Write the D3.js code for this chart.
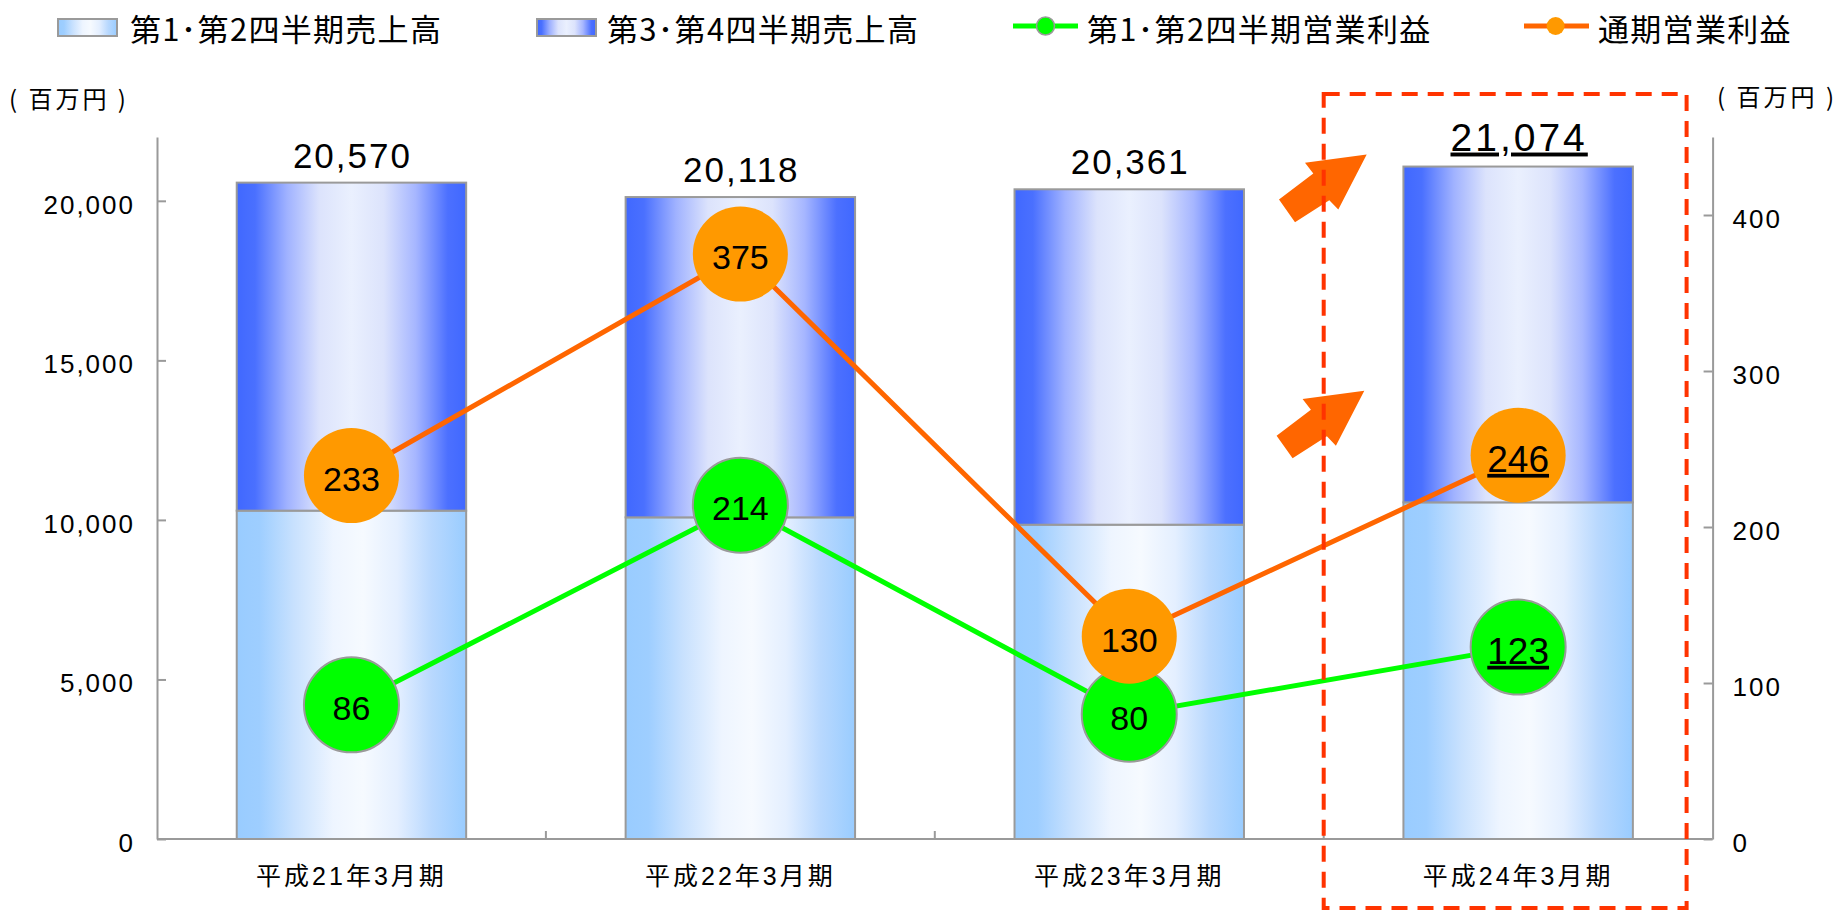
<!DOCTYPE html>
<html>
<head>
<meta charset="utf-8">
<script src="https://cdn.jsdelivr.net/npm/d3@7"></script>
<style>
  body { margin: 0; background: #fff; }
  text { font-family: "Liberation Sans", Arial, "Noto Sans CJK JP", sans-serif; fill: #000; }
  .jp { font-family: "Noto Sans CJK JP", sans-serif; }
</style>
</head>
<body>
<div id="chart"></div>
<script>
// data
const periods = ["平成21年3月期", "平成22年3月期", "平成23年3月期", "平成24年3月期"];
const salesH1 = [10290, 10080, 9850, 10550];      // 第1・第2四半期売上高
const salesTotal = [20570, 20118, 20361, 21074];  // 通期売上高 (bar top)
const profitH1 = [86, 214, 80, 123];              // 第1・第2四半期営業利益
const profitFull = [233, 375, 130, 246];          // 通期営業利益
const leftTicks = [0, 5000, 10000, 15000, 20000];
const rightTicks = [0, 100, 200, 300, 400];
const legendLabels = ["第1･第2四半期売上高", "第3･第4四半期売上高", "第1･第2四半期営業利益", "通期営業利益"];

const width = 1838, height = 913;
const plotLeft = 157, plotRight = 1712.6, plotTop = 137, plotBottom = 839;

const rows = periods.map((p, i) => ({
    period: p,
    h1: salesH1[i],
    total: salesTotal[i],
    pH1: profitH1[i],
    pFull: profitFull[i],
    last: i === periods.length - 1
}));

const svg = d3.select("#chart")
    .append("svg")
    .attr("width", width)
    .attr("height", height);

// gradients for the bars
const defs = svg.append("defs");
function gradient(id, stops) {
    const g = defs.append("linearGradient")
        .attr("id", id)
        .attr("x1", "0%").attr("x2", "100%")
        .attr("y1", "0%").attr("y2", "0%");
    stops.forEach(s => g.append("stop").attr("offset", s[0]).attr("stop-color", s[1]));
}
gradient("gradBottom", [["0%", "#99CCFF"], ["10%", "#9ECEFF"], ["25%", "#C8E1FE"], ["42%", "#EEF5FF"],
    ["55%", "#F6FAFF"], ["70%", "#E4EFFF"], ["85%", "#B8D8FE"], ["100%", "#99CCFF"]]);
gradient("gradTop", [["0%", "#4068FF"], ["8%", "#4A70FF"], ["22%", "#A0B2FF"], ["36%", "#DCE3FC"],
    ["50%", "#EAF0FE"], ["64%", "#DCE3FC"], ["78%", "#A6B6FF"], ["92%", "#4C70FF"], ["100%", "#4068FF"]]);

// scales
const x = d3.scaleBand()
    .domain(periods)
    .range([plotLeft, plotRight])
    .paddingInner(0.41)
    .paddingOuter(0.205);

const yL = d3.scaleLinear().domain([0, 22000]).range([plotBottom, plotTop]);
const yR = d3.scaleLinear().domain([0, 450]).range([plotBottom, plotTop]);

// bars
const bars = svg.append("g").attr("class", "bars");
bars.selectAll(".bottom")
    .data(rows)
    .join("rect")
    .attr("class", "bottom")
    .attr("x", d => x(d.period))
    .attr("width", x.bandwidth())
    .attr("y", d => yL(d.h1))
    .attr("height", d => yL(0) - yL(d.h1))
    .attr("fill", "url(#gradBottom)")
    .attr("stroke", "#9a9a9a")
    .attr("stroke-width", 2);

bars.selectAll(".top")
    .data(rows)
    .join("rect")
    .attr("class", "top")
    .attr("x", d => x(d.period))
    .attr("width", x.bandwidth())
    .attr("y", d => yL(d.total))
    .attr("height", d => yL(d.h1) - yL(d.total))
    .attr("fill", "url(#gradTop)")
    .attr("stroke", "#9a9a9a")
    .attr("stroke-width", 2);

// axes
const leftAxis = svg.append("g")
    .attr("transform", "translate(" + plotLeft + ",0)")
    .call(d3.axisLeft(yL).tickValues(leftTicks).tickFormat(d3.format(",")).tickSize(-9).tickSizeOuter(0).tickPadding(22));

const rightAxis = svg.append("g")
    .attr("transform", "translate(" + plotRight + ",0)")
    .call(d3.axisRight(yR).tickValues(rightTicks).tickSize(-9).tickSizeOuter(0).tickPadding(20));

[leftAxis, rightAxis].forEach(a => {
    a.select(".domain").attr("stroke", "#9a9a9a").attr("stroke-width", 2);
    a.selectAll(".tick line").attr("stroke", "#9a9a9a").attr("stroke-width", 2);
    a.selectAll(".tick text")
        .style("font-size", "26px")
        .style("letter-spacing", "2px")
        .attr("dy", "0.48em");
});

// x axis
const xAxis = svg.append("g")
    .attr("transform", "translate(0," + plotBottom + ")")
    .call(d3.axisBottom(x).tickSize(0).tickPadding(28));
xAxis.select(".domain").remove();
xAxis.selectAll(".tick text")
    .style("font-size", "25px")
    .style("letter-spacing", "3px");

svg.append("line")
    .attr("x1", plotLeft).attr("x2", plotRight)
    .attr("y1", plotBottom).attr("y2", plotBottom)
    .attr("stroke", "#9a9a9a").attr("stroke-width", 2);

svg.append("g")
    .selectAll("line")
    .data(periods.slice(1))
    .join("line")
    .attr("x1", d => x(d) - x.step() * x.paddingInner() / 2)
    .attr("x2", d => x(d) - x.step() * x.paddingInner() / 2)
    .attr("y1", plotBottom).attr("y2", plotBottom - 8)
    .attr("stroke", "#9a9a9a").attr("stroke-width", 2);

// unit labels
svg.append("text").attr("class", "jp")
    .attr("x", 9).attr("y", 97)
    .attr("dominant-baseline", "central")
    .style("font-size", "24px").style("letter-spacing", "3px")
    .text("( 百万円 )");
svg.append("text").attr("class", "jp")
    .attr("x", 1837).attr("y", 95)
    .attr("text-anchor", "end")
    .attr("dominant-baseline", "central")
    .style("font-size", "24px").style("letter-spacing", "3px")
    .text("( 百万円 )");

// total labels above bars
svg.append("g")
    .selectAll("text")
    .data(rows)
    .join("text")
    .attr("x", d => x(d.period) + x.bandwidth() / 2 + 1)
    .attr("y", d => yL(d.total) - (d.last ? 16 : 15))
    .attr("text-anchor", "middle")
    .style("font-size", d => d.last ? "39px" : "35px")
    .style("letter-spacing", d => d.last ? "3px" : "2px")
    .style("text-decoration", d => d.last ? "underline" : "none")
    .text(d => d3.format(",")(d.total));

// lines
const cx = d => x(d.period) + x.bandwidth() / 2;
const lineH1 = d3.line().x(cx).y(d => yR(d.pH1));
const lineFull = d3.line().x(cx).y(d => yR(d.pFull));

svg.append("path")
    .datum(rows)
    .attr("d", lineH1)
    .attr("fill", "none")
    .attr("stroke", "#00FF00")
    .attr("stroke-width", 5);

svg.append("path")
    .datum(rows)
    .attr("d", lineFull)
    .attr("fill", "none")
    .attr("stroke", "#FF6600")
    .attr("stroke-width", 5);

// markers with labels
function markers(key, fill, stroke) {
    const g = svg.append("g").selectAll("g")
        .data(rows)
        .join("g")
        .attr("transform", d => "translate(" + cx(d) + "," + yR(d[key]) + ")");
    g.append("circle")
        .attr("r", 47.5)
        .attr("fill", fill)
        .attr("stroke", stroke)
        .attr("stroke-width", stroke === "none" ? 0 : 2);
    g.append("text")
        .attr("text-anchor", "middle")
        .attr("dy", "0.45em")
        .style("font-size", d => d.last ? "37px" : "34px")
        .style("text-decoration", d => d.last ? "underline" : "none")
        .text(d => d[key]);
}
markers("pH1", "#00FF00", "#9a9a9a");
markers("pFull", "#FF9900", "none");

// arrows pointing up-right towards the latest period
const arrowShape = [[0, 0], [-28.4, 55], [-37.4, 45.6], [-71.7, 67.6], [-87.7, 45], [-53.4, 19], [-61.7, 8.3]];
const boundary = x(periods[3]) - x.step() * x.paddingInner() / 2;
const arrowTips = [[boundary + 43, yL(21450)], [boundary + 40.6, yL(14050)]];
svg.append("g")
    .selectAll("path")
    .data(arrowTips)
    .join("path")
    .attr("transform", d => "translate(" + d[0] + "," + d[1] + ")")
    .attr("d", d3.line()(arrowShape) + "Z")
    .attr("fill", "#FF6600");

// dashed highlight box around the latest period
svg.append("rect")
    .attr("x", boundary)
    .attr("y", 94)
    .attr("width", plotRight - 26 - boundary)
    .attr("height", 814)
    .attr("fill", "none")
    .attr("stroke", "#FF3300")
    .attr("stroke-width", 4)
    .attr("stroke-dasharray", "16,10");

// legend
const legend = svg.append("g").attr("class", "legend");
const swatchX = [58, 537];
["url(#gradBottom)", "url(#gradTop)"].forEach((f, i) => {
    legend.append("rect")
        .attr("x", swatchX[i]).attr("y", 19)
        .attr("width", 59).attr("height", 17)
        .attr("fill", f)
        .attr("stroke", "#9a9a9a").attr("stroke-width", 2);
});
const lineKeys = [
    { x1: 1013, x2: 1078, c: 1045.5, line: "#00FF00", fill: "#00FF00", stroke: "#9a9a9a" },
    { x1: 1524, x2: 1589, c: 1555.6, line: "#FF6600", fill: "#FF9900", stroke: "none" }
];
lineKeys.forEach(k => {
    legend.append("line")
        .attr("x1", k.x1).attr("x2", k.x2)
        .attr("y1", 26).attr("y2", 26)
        .attr("stroke", k.line).attr("stroke-width", 5);
    legend.append("circle")
        .attr("cx", k.c).attr("cy", 26).attr("r", 9)
        .attr("fill", k.fill)
        .attr("stroke", k.stroke).attr("stroke-width", 1.5);
});
const legendX = [130, 607, 1087, 1598];
legend.selectAll(".label")
    .data(legendLabels)
    .join("text")
    .attr("class", "label jp")
    .attr("x", (d, i) => legendX[i])
    .attr("y", 27)
    .attr("dominant-baseline", "central")
    .style("font-size", "31px")
    .style("letter-spacing", "1.3px")
    .text(d => d);
</script>
</body>
</html>
